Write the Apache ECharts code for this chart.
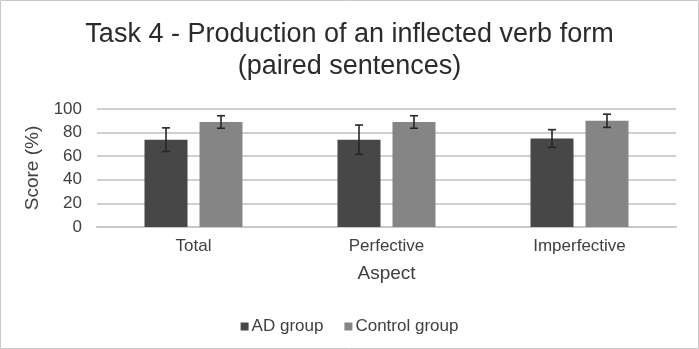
<!DOCTYPE html>
<html>
<head>
<meta charset="utf-8">
<script src="https://cdn.jsdelivr.net/npm/echarts@6/dist/echarts.min.js"></script>
<style>
  html, body { margin: 0; padding: 0; background: #fff; }
  #chart { width: 699px; height: 349px; }
</style>
</head>
<body>
<div id="chart"></div>
<script>
var categories = ['Total', 'Perfective', 'Imperfective'];
var adScores = [74, 74, 75];
var adErrors = [10, 12.4, 7.5];
var controlScores = [89, 89, 90];
var controlErrors = [5.3, 5.3, 5.6];
var yTicks = [0, 20, 40, 60, 80, 100];

var BAR_W = 43;
var BAR_GAP = 12;
var FONT = '"Liberation Sans", Arial, sans-serif';

// error bars: [categoryIndex, mean, err]
function errorData(scores, errs) {
	return scores.map(function (v, i) { return [i, v, errs[i]]; });
}

function errorSeries(name, scores, errs, side) {
	return {
		name: name,
		type: 'custom',
		silent: true,
		z: 5,
		data: errorData(scores, errs),
		encode: { x: 0, y: 1 },
		renderItem: function (params, api) {
			var idx = api.value(0);
			var v = api.value(1);
			var e = api.value(2);
			var hi = api.coord([idx, v + e]);
			var lo = api.coord([idx, v - e]);
			var x = hi[0] + side * (BAR_W + BAR_GAP) / 2;
			var cap = 4;
			var style = { stroke: '#262626', lineWidth: 1.6 };
			return {
				type: 'group',
				children: [
					{ type: 'line', shape: { x1: x, y1: hi[1], x2: x, y2: lo[1] }, style: style },
					{ type: 'line', shape: { x1: x - cap, y1: hi[1], x2: x + cap, y2: hi[1] }, style: style },
					{ type: 'line', shape: { x1: x - cap, y1: lo[1], x2: x + cap, y2: lo[1] }, style: style }
				]
			};
		}
	};
}

var myChart = echarts.init(document.getElementById('chart'));
var option = {
	animation: false,
	textStyle: { fontFamily: FONT },
	graphic: [{
		type: 'rect',
		shape: { x: 0.5, y: 0.5, width: 698, height: 348 },
		style: { fill: 'none', stroke: '#c8c8c8', lineWidth: 1 },
		silent: true
	}],
	title: {
		text: 'Task 4 - Production of an inflected verb form\n(paired sentences)',
		left: 'center',
		top: 19,
		padding: 0,
		textStyle: {
			fontFamily: FONT,
			fontSize: 27,
			fontWeight: 'normal',
			color: '#2b2b2b',
			lineHeight: 32
		}
	},
	legend: {
		top: 313,
		left: 'center',
		itemWidth: 8,
		itemHeight: 8,
		itemGap: 21,
		icon: 'rect',
		data: ['AD group', 'Control group'],
		textStyle: { fontFamily: FONT, fontSize: 17, color: '#404040', padding: [0, 0, 0, -2] }
	},
	grid: {
		left: 97,
		right: 23,
		top: 109,
		bottom: 122
	},
	xAxis: {
		type: 'category',
		data: categories,
		name: 'Aspect',
		nameLocation: 'middle',
		nameGap: 37,
		nameTextStyle: { fontFamily: FONT, fontSize: 19, color: '#404040' },
		axisLine: { lineStyle: { color: '#c8c8c8', width: 2 } },
		axisTick: { show: false },
		axisLabel: { fontFamily: FONT, fontSize: 17, color: '#404040', margin: 11 }
	},
	yAxis: {
		type: 'value',
		min: yTicks[0],
		max: yTicks[yTicks.length - 1],
		interval: 20,
		name: 'Score (%)',
		nameLocation: 'middle',
		nameGap: 48,
		nameTextStyle: { fontFamily: FONT, fontSize: 19, color: '#404040' },
		axisLine: { show: false },
		axisTick: { show: false },
		axisLabel: { fontFamily: FONT, fontSize: 17, color: '#404040', margin: 15 },
		splitLine: { lineStyle: { color: '#cfcfcf', width: 2 } }
	},
	series: [
		{
			name: 'AD group',
			type: 'bar',
			data: adScores,
			barWidth: BAR_W,
			barGap: (BAR_GAP / BAR_W * 100) + '%',
			itemStyle: { color: '#474747' }
		},
		{
			name: 'Control group',
			type: 'bar',
			data: controlScores,
			barWidth: BAR_W,
			itemStyle: { color: '#858585' }
		},
		errorSeries('AD group err', adScores, adErrors, -1),
		errorSeries('Control group err', controlScores, controlErrors, 1)
	]
};
myChart.setOption(option);
</script>
</body>
</html>
